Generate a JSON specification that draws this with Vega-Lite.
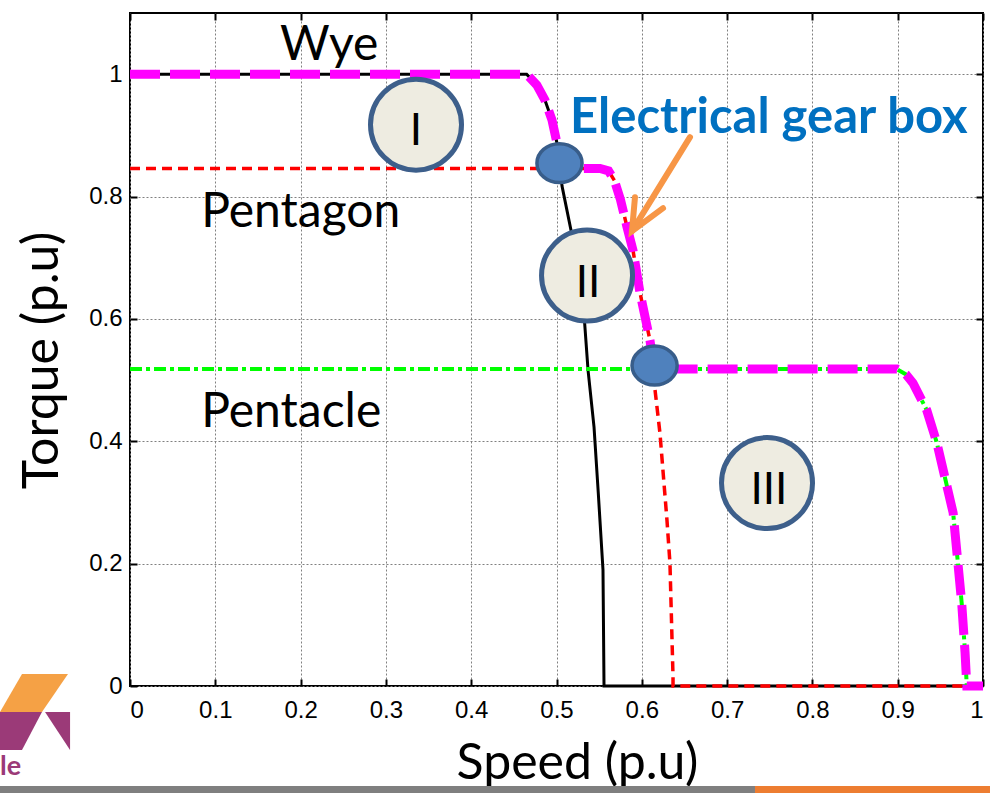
{
"$schema": "https://vega.github.io/schema/vega-lite/v6.json",
"width": 853, "height": 673,
"autosize": "none",
"padding": {"left": 130, "top": 13, "right": 7, "bottom": 107},
"background": "white",
"config": {
  "view": {"stroke": "black", "strokeWidth": 2},
  "axis": {"domain": false, "labelFont": "Liberation Sans", "labelFontSize": 24, "labelColor": "black",
    "titleFont": "Lato", "titleFontSize": 50, "titleFontWeight": "normal", "titleColor": "black",
    "gridColor": "#808080", "gridDash": [2, 2], "gridWidth": 1, "tickColor": "black", "tickWidth": 2, "tickSize": -7}
},
"data": {"values": [
  {"g":"black","i":0,"x":0,"y":1},{"g":"black","i":1,"x":0.465,"y":1},{"g":"black","i":2,"x":0.477,"y":0.982},{"g":"black","i":3,"x":0.4865,"y":0.9575},{"g":"black","i":4,"x":0.4947,"y":0.925},{"g":"black","i":5,"x":0.5006,"y":0.887},{"g":"black","i":6,"x":0.5065,"y":0.817},{"g":"black","i":7,"x":0.517,"y":0.745},{"g":"black","i":8,"x":0.533,"y":0.593},{"g":"black","i":9,"x":0.537,"y":0.516},{"g":"black","i":10,"x":0.544,"y":0.423},{"g":"black","i":11,"x":0.549,"y":0.315},{"g":"black","i":12,"x":0.5545,"y":0.19},{"g":"black","i":13,"x":0.5557,"y":0},{"g":"black","i":14,"x":1,"y":0},
  {"g":"red","i":0,"x":0,"y":0.846},{"g":"red","i":1,"x":0.551,"y":0.846},{"g":"red","i":2,"x":0.561,"y":0.842},{"g":"red","i":3,"x":0.568,"y":0.826},{"g":"red","i":4,"x":0.575,"y":0.795},{"g":"red","i":5,"x":0.5827,"y":0.75},{"g":"red","i":6,"x":0.5897,"y":0.712},{"g":"red","i":7,"x":0.598,"y":0.642},{"g":"red","i":8,"x":0.6096,"y":0.565},{"g":"red","i":9,"x":0.6155,"y":0.484},{"g":"red","i":10,"x":0.6213,"y":0.413},{"g":"red","i":11,"x":0.6295,"y":0.271},{"g":"red","i":12,"x":0.633,"y":0.201},{"g":"red","i":13,"x":0.6366,"y":0.015},{"g":"red","i":14,"x":0.6366,"y":0},{"g":"red","i":15,"x":0.98,"y":0},
  {"g":"green","i":0,"x":0,"y":0.518},{"g":"green","i":1,"x":0.899,"y":0.518},{"g":"green","i":2,"x":0.91,"y":0.509},{"g":"green","i":3,"x":0.918,"y":0.495},{"g":"green","i":4,"x":0.934,"y":0.451},{"g":"green","i":5,"x":0.946,"y":0.397},{"g":"green","i":6,"x":0.958,"y":0.325},{"g":"green","i":7,"x":0.965,"y":0.283},{"g":"green","i":8,"x":0.9695,"y":0.217},{"g":"green","i":9,"x":0.975,"y":0.136},{"g":"green","i":10,"x":0.979,"y":0.054},{"g":"green","i":11,"x":0.981,"y":0},
  {"g":"mag","i":0,"x":0,"y":1},{"g":"mag","i":1,"x":0.465,"y":1},{"g":"mag","i":2,"x":0.477,"y":0.982},{"g":"mag","i":3,"x":0.4865,"y":0.9575},{"g":"mag","i":4,"x":0.4947,"y":0.925},{"g":"mag","i":5,"x":0.5006,"y":0.887},{"g":"mag","i":6,"x":0.5035,"y":0.855},{"g":"mag","i":7,"x":0.51,"y":0.846},{"g":"mag","i":8,"x":0.551,"y":0.846},{"g":"mag","i":9,"x":0.561,"y":0.842},{"g":"mag","i":10,"x":0.568,"y":0.826},{"g":"mag","i":11,"x":0.575,"y":0.795},{"g":"mag","i":12,"x":0.5827,"y":0.75},{"g":"mag","i":13,"x":0.5897,"y":0.712},{"g":"mag","i":14,"x":0.598,"y":0.642},{"g":"mag","i":15,"x":0.6096,"y":0.565},{"g":"mag","i":16,"x":0.613,"y":0.53},{"g":"mag","i":17,"x":0.62,"y":0.518},{"g":"mag","i":18,"x":0.899,"y":0.518},{"g":"mag","i":19,"x":0.91,"y":0.509},{"g":"mag","i":20,"x":0.918,"y":0.495},{"g":"mag","i":21,"x":0.934,"y":0.451},{"g":"mag","i":22,"x":0.946,"y":0.397},{"g":"mag","i":23,"x":0.958,"y":0.325},{"g":"mag","i":24,"x":0.965,"y":0.283},{"g":"mag","i":25,"x":0.9695,"y":0.217},{"g":"mag","i":26,"x":0.975,"y":0.136},{"g":"mag","i":27,"x":0.979,"y":0.054},{"g":"mag","i":28,"x":0.981,"y":0},{"g":"mag","i":29,"x":1.0,"y":0},
  {"g":"arrow","s":"a","i":0,"x":0.6565,"y":0.897},{"g":"arrow","s":"a","i":1,"x":0.5885,"y":0.7435},
  {"g":"arrow","s":"b","i":0,"x":0.592,"y":0.799},{"g":"arrow","s":"b","i":1,"x":0.5885,"y":0.7435},{"g":"arrow","s":"b","i":2,"x":0.6249,"y":0.781},
  {"g":"ring","x":0.3353,"y":0.9175},{"g":"ring","x":0.5358,"y":0.6708},{"g":"ring","x":0.7468,"y":0.3317},
  {"g":"dot","x":0.5035,"y":0.8546},{"g":"dot","x":0.615,"y":0.5237},
  {"g":"num","x":0.3353,"y":0.884,"t":"I"},{"g":"num","x":0.537,"y":0.636,"t":"II"},{"g":"num","x":0.749,"y":0.2974,"t":"III"},
  {"g":"lab","x":0.1758,"y":1.0229,"t":"Wye"},{"g":"lab","x":0.0835,"y":0.75,"t":"Pentagon"},{"g":"lab","x":0.0835,"y":0.423,"t":"Pentacle"},
  {"g":"egb","x":0.5158,"y":0.9036,"t":"Electrical gear box"},
  {"g":"logo1","x":-0.1266,"x2":-0.0727,"y":0.0196},{"g":"logo1","x":-0.1524,"x2":-0.1032,"y":-0.0425},
  {"g":"logo2","x":-0.1524,"x2":-0.1032,"y":-0.0425},{"g":"logo2","x":-0.1524,"x2":-0.1266,"y":-0.1046},
  {"g":"logo3","x":-0.0996,"x2":-0.0703,"y":-0.0425},{"g":"logo3","x":-0.0703,"x2":-0.0703,"y":-0.1046},
  {"g":"le","x":-0.1524,"y":-0.1454,"t":"le"},
  {"g":"bar","c":"gray","x":-0.1524,"x2":0.7327,"y":-0.1634,"y2":-0.1748},
  {"g":"bar","c":"orange","x":0.7327,"x2":1.0082,"y":-0.1634,"y2":-0.1748}
]},
"encoding": {
  "x": {"field": "x", "type": "quantitative", "scale": {"domain": [0, 1], "nice": false, "zero": false}, "axis": null},
  "y": {"field": "y", "type": "quantitative", "scale": {"domain": [0, 1.1], "nice": false, "zero": false}, "axis": null}
},
"layer": [
  {"transform": [{"filter": "datum.g === 'black'"}],
   "mark": {"type": "line", "color": "black", "strokeWidth": 3},
   "encoding": {
     "x": {"field": "x", "type": "quantitative", "scale": {"domain": [0, 1], "nice": false, "zero": false},
       "axis": {"orient": "bottom", "values": [0,0.1,0.2,0.3,0.4,0.5,0.6,0.7,0.8,0.9,1], "format": "~g", "grid": true, "labelPadding": 19, "title": "Speed (p.u)", "titlePadding": 16, "titleX": 447}},
     "y": {"field": "y", "type": "quantitative", "scale": {"domain": [0, 1.1], "nice": false, "zero": false},
       "axis": {"orient": "left", "values": [0,0.2,0.4,0.6,0.8,1], "format": "~g", "grid": true, "labelPadding": 15, "title": "Torque (p.u)", "titlePadding": 21, "titleY": 347}},
     "order": {"field": "i"}}},
  {"transform": [{"filter": "datum.g === 'red'"}],
   "mark": {"type": "line", "color": "#FF0000", "strokeWidth": 3.5, "strokeDash": [10, 6]},
   "encoding": {"order": {"field": "i"}}},
  {"transform": [{"filter": "datum.g === 'green'"}],
   "mark": {"type": "line", "color": "#00FF00", "strokeWidth": 4, "strokeDash": [12, 4, 4, 4]},
   "encoding": {
     "x": {"field": "x", "type": "quantitative", "scale": {"domain": [0, 1], "nice": false, "zero": false},
       "axis": {"orient": "top", "values": [0,0.1,0.2,0.3,0.4,0.5,0.6,0.7,0.8,0.9,1], "labels": false, "grid": false, "title": null}},
     "y": {"field": "y", "type": "quantitative", "scale": {"domain": [0, 1.1], "nice": false, "zero": false},
       "axis": {"orient": "right", "values": [0,0.2,0.4,0.6,0.8,1], "labels": false, "grid": false, "title": null}},
     "order": {"field": "i"}}},
  {"transform": [{"filter": "datum.g === 'mag'"}],
   "mark": {"type": "line", "color": "#FF00FF", "strokeWidth": 9, "strokeDash": [30, 10]},
   "encoding": {"order": {"field": "i"}}},
  {"transform": [{"filter": "datum.g === 'arrow'"}],
   "mark": {"type": "line", "color": "#F79646", "strokeWidth": 6, "strokeCap": "round", "strokeJoin": "miter"},
   "encoding": {"detail": {"field": "s"}, "order": {"field": "i"}}},
  {"transform": [{"filter": "datum.g === 'ring'"}],
   "mark": {"type": "point", "shape": "circle", "filled": true, "fill": "#EEECE1", "stroke": "#3D5F8B", "strokeWidth": 5, "size": 8281, "opacity": 1}},
  {"transform": [{"filter": "datum.g === 'dot'"}],
   "mark": {"type": "point", "shape": "M -1.1 0 A 1.1 0.95 0 1 0 1.1 0 A 1.1 0.95 0 1 0 -1.1 0 Z", "filled": true, "fill": "#4F81BD", "stroke": "#385D8A", "strokeWidth": 3.5, "size": 1681, "opacity": 1}},
  {"transform": [{"filter": "datum.g === 'num'"}],
   "mark": {"type": "text", "font": "Lato", "fontSize": 44, "color": "black", "align": "center", "baseline": "alphabetic"},
   "encoding": {"text": {"field": "t"}}},
  {"transform": [{"filter": "datum.g === 'lab'"}],
   "mark": {"type": "text", "font": "Lato", "fontSize": 48, "color": "black", "align": "left", "baseline": "alphabetic"},
   "encoding": {"text": {"field": "t"}}},
  {"transform": [{"filter": "datum.g === 'egb'"}],
   "mark": {"type": "text", "font": "Lato", "fontSize": 49, "fontWeight": "bold", "color": "#0070C0", "align": "left", "baseline": "alphabetic"},
   "encoding": {"text": {"field": "t"}}},
  {"transform": [{"filter": "datum.g === 'logo1'"}],
   "mark": {"type": "area", "orient": "horizontal", "color": "#F5A145", "opacity": 1},
   "encoding": {"x2": {"field": "x2"}}},
  {"transform": [{"filter": "datum.g === 'logo2'"}],
   "mark": {"type": "area", "orient": "horizontal", "color": "#9B3A78", "opacity": 1},
   "encoding": {"x2": {"field": "x2"}}},
  {"transform": [{"filter": "datum.g === 'logo3'"}],
   "mark": {"type": "area", "orient": "horizontal", "color": "#9B3A78", "opacity": 1},
   "encoding": {"x2": {"field": "x2"}}},
  {"transform": [{"filter": "datum.g === 'le'"}],
   "mark": {"type": "text", "font": "Lato", "fontSize": 27, "fontWeight": "bold", "color": "#9B3A78", "align": "left", "baseline": "alphabetic"},
   "encoding": {"text": {"field": "t"}}},
  {"transform": [{"filter": "datum.g === 'bar'"}],
   "mark": {"type": "rect"},
   "encoding": {"x2": {"field": "x2"}, "y2": {"field": "y2"},
     "color": {"field": "c", "type": "nominal", "scale": {"domain": ["gray", "orange"], "range": ["#7F7F7F", "#ED7D31"]}, "legend": null}}}
],
"resolve": {"axis": {"x": "independent", "y": "independent"}}
}
